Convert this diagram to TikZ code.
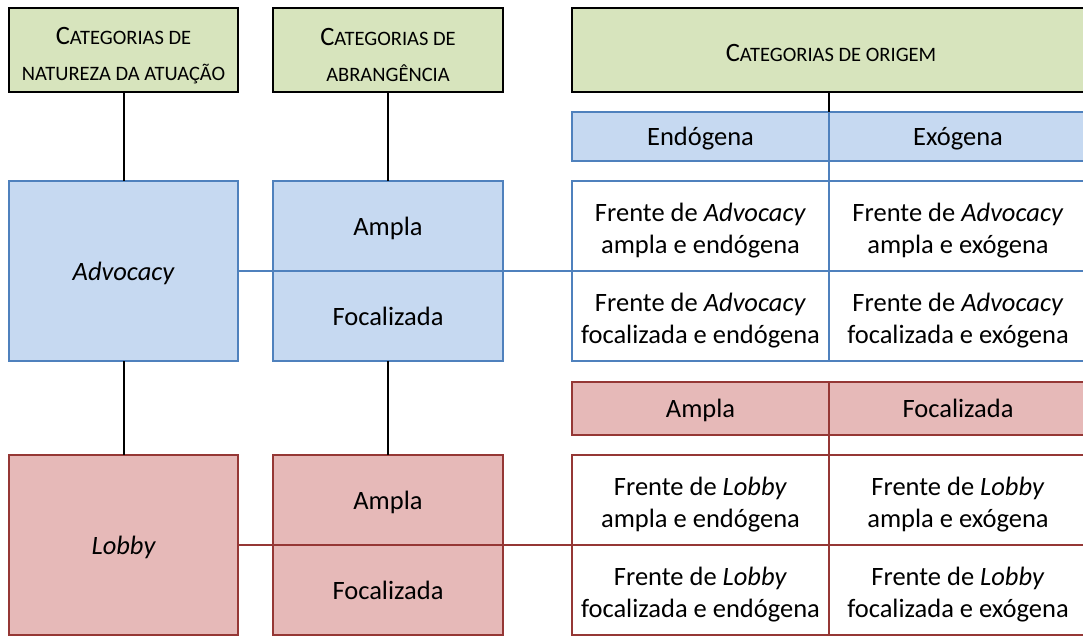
\documentclass[tikz,border=0pt]{standalone}
\usepackage{fontspec}
\setmainfont{Carlito}
\definecolor{hdrgreen}{HTML}{D7E4BD}
\definecolor{advfill}{HTML}{C6D9F1}
\definecolor{advline}{HTML}{4F81BD}
\definecolor{lobfill}{HTML}{E6B9B8}
\definecolor{lobline}{HTML}{953735}
\newcommand\BigC[1]{{\fontsize{26.5}{36}\selectfont #1}}
\newcommand\SmC[1]{{\fontsize{20.5}{36}\selectfont #1}}
\newcommand\St{\rule[-9.6pt]{0pt}{37.6pt}}
\newcommand\Tp{\rule{0pt}{28pt}}
\newcommand\Hp{\rule{0pt}{28pt}}
\newcommand\Hq{\rule{0pt}{24pt}}
\tikzset{
  box/.style={rectangle, inner sep=0pt, outer sep=0pt, align=center, font=\fontsize{26.5}{32}\selectfont},
  hdr/.style={box, draw=black, line width=2.5pt, fill=hdrgreen, font=\fontsize{20.5}{36}\selectfont},
  advbox/.style={box, draw=advline, line width=2pt, fill=advfill},
  advcell/.style={box, draw=advline, line width=2pt, fill=white},
  lobbox/.style={box, draw=lobline, line width=2pt, fill=lobfill},
  lobcell/.style={box, draw=lobline, line width=2pt, fill=white},
  conn/.style={draw=black, line width=2pt},
}
\begin{document}
\begin{tikzpicture}[x=1pt,y=-1pt]
\useasboundingbox (0,0) rectangle (1083,635);
\clip (0,0) rectangle (1083,635);
% headers
\node[hdr, minimum width=229, minimum height=84] (gl) at (123.5,50)
  {\Hp\BigC{C}\SmC{ATEGORIAS DE}\\\SmC{NATUREZA DA ATUAÇÃO}};
\node[hdr, minimum width=230, minimum height=84] (gm) at (388,50)
  {\Hp\BigC{C}\SmC{ATEGORIAS DE}\\\SmC{ABRANGÊNCIA}};
\node[hdr, minimum width=518, minimum height=84] (gr) at (831,50)
  {\Hq\BigC{C}\SmC{ATEGORIAS DE ORIGEM}};
% advocacy
\node[advbox, minimum width=229, minimum height=180] (bl) at (123.5,271) {\St\itshape Advocacy};
\node[advbox, minimum width=230, minimum height=90] (bmt) at (388,226) {\St Ampla};
\node[advbox, minimum width=230, minimum height=90] (bmb) at (388,316) {\St Focalizada};
\node[advbox, minimum width=257, minimum height=49] (endo) at (700.5,136.5) {\St Endógena};
\node[advbox, minimum width=258, minimum height=49] (exo) at (958,136.5) {\St Exógena};
\node[advcell, minimum width=257, minimum height=90] (a11) at (700.5,226) {\Tp Frente de \textit{Advocacy}\\ampla e endógena};
\node[advcell, minimum width=258, minimum height=90] (a12) at (958,226) {\Tp Frente de \textit{Advocacy}\\ampla e exógena};
\node[advcell, minimum width=257, minimum height=90] (a21) at (700.5,316) {\Tp Frente de \textit{Advocacy}\\focalizada e endógena};
\node[advcell, minimum width=258, minimum height=90] (a22) at (958,316) {\Tp Frente de \textit{Advocacy}\\focalizada e exógena};
% lobby
\node[lobbox, minimum width=229, minimum height=180] (rl) at (123.5,545) {\St\itshape Lobby};
\node[lobbox, minimum width=230, minimum height=90] (rmt) at (388,500) {\St Ampla};
\node[lobbox, minimum width=230, minimum height=90] (rmb) at (388,590) {\St Focalizada};
\node[lobbox, minimum width=257, minimum height=53] (lamp) at (700.5,408.5) {\St Ampla};
\node[lobbox, minimum width=258, minimum height=53] (lfoc) at (958,408.5) {\St Focalizada};
\node[lobcell, minimum width=257, minimum height=90] (l11) at (700.5,500) {\Tp Frente de \textit{Lobby}\\ampla e endógena};
\node[lobcell, minimum width=258, minimum height=90] (l12) at (958,500) {\Tp Frente de \textit{Lobby}\\ampla e exógena};
\node[lobcell, minimum width=257, minimum height=90] (l21) at (700.5,590) {\Tp Frente de \textit{Lobby}\\focalizada e endógena};
\node[lobcell, minimum width=258, minimum height=90] (l22) at (958,590) {\Tp Frente de \textit{Lobby}\\focalizada e exógena};
% connectors
\draw[conn] (gl.south) -- (bl.north);
\draw[conn] (gm.south) -- (bmt.north);
\draw[conn] (gr.south -| endo.north east) -- (endo.north east);
\draw[conn] (bl.south) -- (rl.north);
\draw[conn] (bmb.south) -- (rmt.north);
\draw[advline, line width=2pt] (endo.south east) -- (a11.north east);
\draw[advline, line width=2pt] (bl.east) -- (bmt.south west);
\draw[advline, line width=2pt] (bmt.south east) -- (a11.south west);
\draw[lobline, line width=2pt] (lamp.south east) -- (l11.north east);
\draw[lobline, line width=1.2pt] (rl.east) -- (rmt.south west);
\draw[lobline, line width=1.2pt] (rmt.south east) -- (l11.south west);
\end{tikzpicture}
\end{document}
